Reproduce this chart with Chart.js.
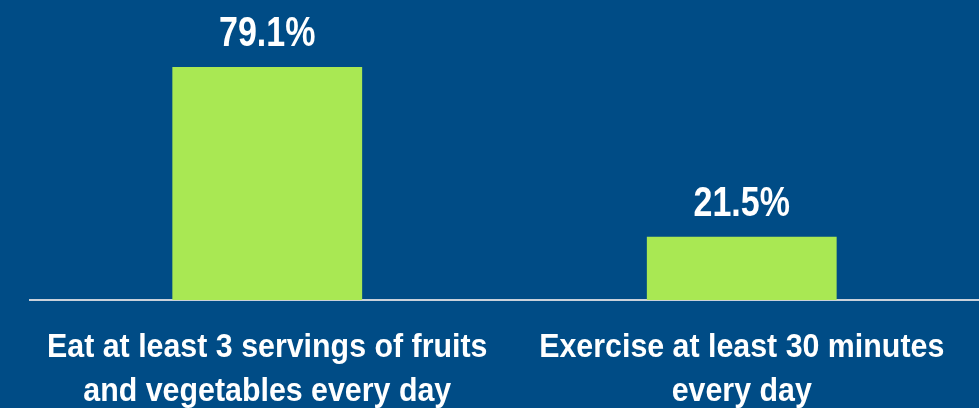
<!DOCTYPE html>
<html>
<head>
<meta charset="utf-8">
<script src="https://cdn.jsdelivr.net/npm/chart.js@4/dist/chart.umd.min.js"></script>
<style>
  html, body { margin: 0; padding: 0; background: #004C86; }
  #wrap { width: 979px; height: 408px; position: relative; }
</style>
</head>
<body>
<div id="wrap"><canvas id="c" width="979" height="408"></canvas></div>
<script>
const categories = [
  ["Eat at least 3 servings of fruits", "and vegetables every day"],
  ["Exercise at least 30 minutes", "every day"]
];
const values = [79.1, 21.5];
const valueLabels = ["79.1%", "21.5%"];

const FONT = "'Liberation Sans', Arial, sans-serif";
const TICK_SIZE = 34, VALUE_SIZE = 42;

// condensed-text look (reference uses a narrow bold face)
const canvas = document.getElementById('c');
const ctx2d = canvas.getContext('2d');
const proto = CanvasRenderingContext2D.prototype;
function squeeze(font) {
  if (font.indexOf(TICK_SIZE + 'px') >= 0) return 0.893;
  if (font.indexOf(VALUE_SIZE + 'px') >= 0) return 0.81;
  return 1;
}
ctx2d.fillText = function (t, x, y, mw) {
  const s = squeeze(this.font);
  if (s === 1) return proto.fillText.call(this, t, x, y, mw);
  this.save();
  this.translate(x, y);
  this.scale(s, 1);
  proto.fillText.call(this, t, 0, 0);
  this.restore();
};
ctx2d.measureText = function (t) {
  const m = proto.measureText.call(this, t);
  const s = squeeze(this.font);
  if (s === 1) return m;
  return {
    width: m.width * s,
    actualBoundingBoxAscent: m.actualBoundingBoxAscent,
    actualBoundingBoxDescent: m.actualBoundingBoxDescent,
    actualBoundingBoxLeft: m.actualBoundingBoxLeft * s,
    actualBoundingBoxRight: m.actualBoundingBoxRight * s
  };
};

const valueLabelPlugin = {
  id: 'valueLabels',
  afterDatasetsDraw(chart) {
    const ctx = chart.ctx;
    const meta = chart.getDatasetMeta(0);
    ctx.save();
    ctx.fillStyle = '#ffffff';
    ctx.font = "bold " + VALUE_SIZE + "px " + FONT;
    ctx.textAlign = 'center';
    ctx.textBaseline = 'alphabetic';
    meta.data.forEach((bar, i) => {
      ctx.fillText(valueLabels[i], bar.x, bar.y - 21);
    });
    ctx.restore();
  }
};

new Chart(canvas, {
  type: 'bar',
  data: {
    labels: categories,
    datasets: [{
      data: values,
      backgroundColor: '#A9E853',
      borderWidth: 0,
      barPercentage: 0.4,
      categoryPercentage: 1.0
    }]
  },
  options: {
    responsive: false,
    animation: false,
    layout: { padding: { left: 30, right: 0, top: 0, bottom: 0 } },
    plugins: { legend: { display: false }, tooltip: { enabled: false } },
    scales: {
      y: { display: false, min: 0, max: 101.8 },
      x: {
        grid: { display: false, drawTicks: false },
        border: { display: true, color: '#C9D1DB', width: 2 },
        ticks: {
          color: '#ffffff',
          font: { family: FONT, size: TICK_SIZE, weight: 'bold', lineHeight: 1.294 },
          padding: 26,
          maxRotation: 0,
          autoSkip: false
        },
        afterFit(scale) {
          scale.height = 108;
          scale.paddingLeft = 0;
          scale.paddingRight = 0;
        }
      }
    }
  },
  plugins: [valueLabelPlugin]
});
</script>
</body>
</html>
